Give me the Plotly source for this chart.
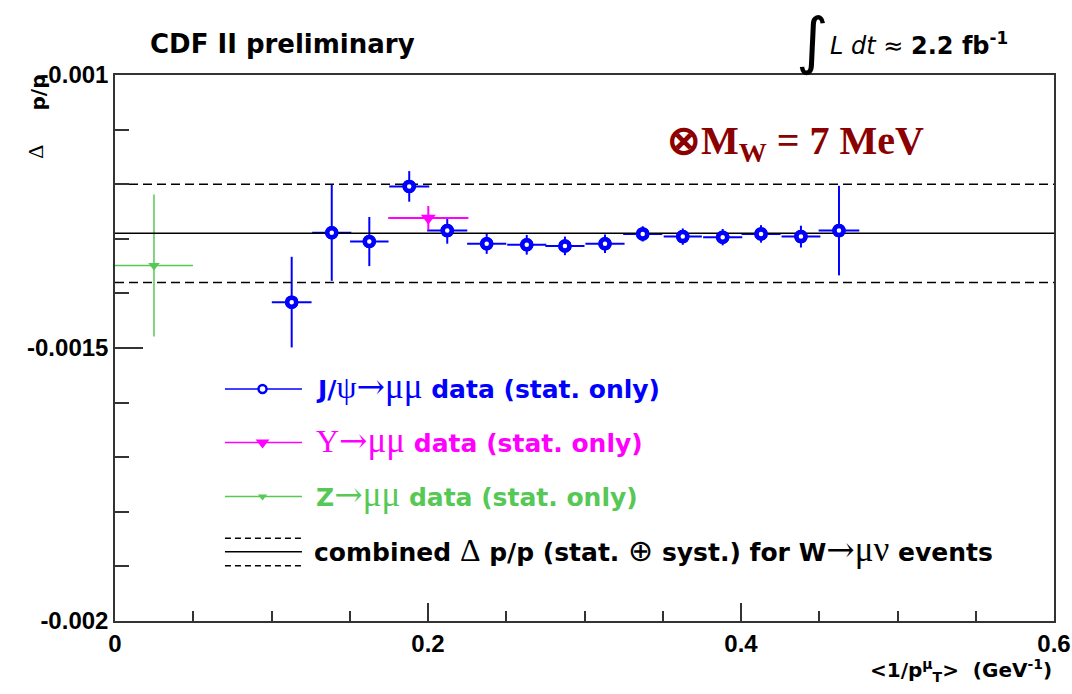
import plotly.graph_objects as go

# ---------------- data ----------------
jpsi_x = [0.1129, 0.1385, 0.1625, 0.1880, 0.2123, 0.2375, 0.2631, 0.2875,
          0.3131, 0.3372, 0.3628, 0.3883, 0.4128, 0.4383, 0.4626]
jpsi_y = [-0.001416, -0.001289, -0.001305, -0.001204, -0.001285, -0.001309,
          -0.001311, -0.001313, -0.001309, -0.001291, -0.001296, -0.001297,
          -0.001291, -0.001296, -0.001285]
jpsi_xerr = [0.0127, 0.0125, 0.0123, 0.0128, 0.0128, 0.0125, 0.0125, 0.0125,
             0.0125, 0.0125, 0.0122, 0.0125, 0.0125, 0.0124, 0.0130]
jpsi_yerr = [0.000083, 0.000088, 0.000045, 0.000028, 0.000024, 0.0000185,
             0.000018, 0.000017, 0.000017, 0.000014, 0.000015, 0.000015,
             0.000016, 0.000020, 0.000082]

ups_x = [0.2002]
ups_y = [-0.001262]
ups_xerr = [0.0256]
ups_yerr = [0.000022]

z_x = [0.0249]
z_y = [-0.001349]
z_xerr = [0.0249]
z_yerr = [0.00013]

comb_center = -0.00129
comb_err = 0.00009
x_span = [0.0, 0.6]

x_tickvals = [0.0, 0.2, 0.4, 0.6]
x_ticktext = ["0", "0.2", "0.4", "0.6"]
x_minor = [0.05, 0.1, 0.15, 0.25, 0.3, 0.35, 0.45, 0.5, 0.55]
y_tickvals = [-0.002, -0.0015, -0.001]
y_ticktext = ["-0.002", "-0.0015", "-0.001"]
y_minor = [-0.0019, -0.0018, -0.0017, -0.0016, -0.0014, -0.0013, -0.0012, -0.0011]

BLUE = "#0000ff"
MAG = "#ff00ff"
GREEN = "#55c855"
DARKRED = "#8b0000"
FRAME = "#333333"
SANS_B = dict(family="DejaVu Sans", weight="bold")
GR = "font-family:Liberation Serif;font-weight:normal;font-size:32px"
MU = "font-family:Liberation Serif;font-weight:normal;font-size:35px"
AR = "font-family:DejaVu Serif;font-weight:normal;font-size:34px"
SYM = "font-family:DejaVu Sans;font-weight:normal;font-size:30px"


def span(style, txt):
    return '<span style="%s">%s</span>' % (style, txt)


fig = go.Figure()

# J/psi data with error bars
fig.add_trace(go.Scatter(
    x=jpsi_x, y=jpsi_y, mode="markers",
    error_x=dict(type="data", array=jpsi_xerr, color=BLUE, thickness=2, width=0),
    error_y=dict(type="data", array=jpsi_yerr, color=BLUE, thickness=2, width=0),
    marker=dict(symbol="circle", size=9, color="white", line=dict(color=BLUE, width=4.5)),
    showlegend=False, hoverinfo="skip"))

# Z data
fig.add_trace(go.Scatter(
    x=z_x, y=z_y, mode="markers",
    error_x=dict(type="data", array=z_xerr, color=GREEN, thickness=1.5, width=0),
    error_y=dict(type="data", array=z_yerr, color=GREEN, thickness=1.5, width=0),
    marker=dict(symbol="triangle-down", size=10, color=GREEN),
    showlegend=False, hoverinfo="skip"))

# Upsilon data
fig.add_trace(go.Scatter(
    x=ups_x, y=ups_y, mode="markers",
    error_x=dict(type="data", array=ups_xerr, color=MAG, thickness=2, width=0),
    error_y=dict(type="data", array=ups_yerr, color=MAG, thickness=2, width=0),
    marker=dict(symbol="triangle-down", size=13, color=MAG),
    showlegend=False, hoverinfo="skip"))

# combined band lines
fig.add_trace(go.Scatter(x=x_span, y=[comb_center, comb_center], mode="lines",
                         line=dict(color="black", width=1.5),
                         showlegend=False, hoverinfo="skip"))
for yy in (comb_center + comb_err, comb_center - comb_err):
    fig.add_trace(go.Scatter(x=x_span, y=[yy, yy], mode="lines",
                             line=dict(color="black", width=1.5, dash="9px,5px"),
                             showlegend=False, hoverinfo="skip"))

# redraw J/psi markers on top of lines
fig.add_trace(go.Scatter(
    x=jpsi_x, y=jpsi_y, mode="markers",
    marker=dict(symbol="circle", size=9, color="white", line=dict(color=BLUE, width=4.5)),
    showlegend=False, hoverinfo="skip"))

# ---------------- hand-drawn legend (paper-like overlay axes) ----------------
lx0, lx1, lxm = 0.1171, 0.1991, 0.1571
ltext_x = 0.2119
leg = [
    (0.4248, BLUE, "circle", 8,
     "J/" + span(GR, "ψ") + span(AR, "→") + span(MU, "μμ") + " data (stat. only)"),
    (0.3269, MAG, "triangle-down", 12,
     span(GR, "Υ") + span(AR, "→") + span(MU, "μμ") + " data (stat. only)"),
    (0.2279, GREEN, "triangle-down", 8,
     "Z" + span(AR, "→") + span(MU, "μμ") + " data (stat. only)"),
]
for yy, col, sym, sz, txt in leg:
    fig.add_trace(go.Scatter(x=[lx0, lx1], y=[yy, yy], mode="lines",
                             line=dict(color=col, width=1.5),
                             xaxis="x2", yaxis="y2", showlegend=False, hoverinfo="skip"))
    if sym == "circle":
        mk = dict(symbol="circle", size=sz, color="white", line=dict(color=col, width=2.5))
    else:
        mk = dict(symbol=sym, size=sz, color=col)
    fig.add_trace(go.Scatter(x=[lxm], y=[yy], mode="markers", marker=mk,
                             xaxis="x2", yaxis="y2", showlegend=False, hoverinfo="skip"))
    fig.add_annotation(x=ltext_x, y=yy + 0.005, xref="paper", yref="paper", text=txt,
                       showarrow=False, xanchor="left", yanchor="middle",
                       font=dict(size=25, color=col, **SANS_B))

for yy, dash in ((0.1270, "solid"), (0.1516, "6px,4px"), (0.1014, "6px,4px")):
    fig.add_trace(go.Scatter(x=[lx0, lx1], y=[yy, yy], mode="lines",
                             line=dict(color="black", width=1.5, dash=dash),
                             xaxis="x2", yaxis="y2", showlegend=False, hoverinfo="skip"))
fig.add_annotation(x=ltext_x - 0.002, y=0.1270 + 0.005, xref="paper", yref="paper",
                   text=("combined " + span(GR, "Δ") + " p/p (stat. " + span(SYM, "⊕")
                         + " syst.) for W" + span(AR, "→") + span(MU, "μν") + " events"),
                   showarrow=False, xanchor="left", yanchor="middle",
                   font=dict(size=25, color="black", **SANS_B))

# ---------------- other text ----------------
fig.add_annotation(x=0.0351, y=1.0559, xref="paper", yref="paper",
                   text="CDF II preliminary", showarrow=False,
                   xanchor="left", yanchor="middle",
                   font=dict(size=26, color="black", **SANS_B))
fig.add_annotation(x=0.742, y=1.064, xref="paper", yref="paper",
                   text="∫", showarrow=False, xanchor="center", yanchor="middle",
                   font=dict(size=62, color="black", family="DejaVu Sans"))
fig.add_annotation(x=0.7593, y=1.0559, xref="paper", yref="paper",
                   text="<i>L dt</i> ≈ <b>2.2 fb<sup>-1</sup></b>", showarrow=False,
                   xanchor="left", yanchor="middle",
                   font=dict(size=24, color="black", family="DejaVu Sans"))
fig.add_annotation(x=0.586, y=0.8763, xref="paper", yref="paper",
                   text="⊗M<sub>W</sub> = 7 MeV", showarrow=False,
                   xanchor="left", yanchor="middle",
                   font=dict(size=40, color=DARKRED, family="Liberation Serif", weight="bold"))
# y title
fig.add_annotation(x=-0.082, y=0.968, xref="paper", yref="paper", text="p/p",
                   textangle=-90, showarrow=False, xanchor="center", yanchor="middle",
                   font=dict(size=20, color="black", **SANS_B))
fig.add_annotation(x=-0.085, y=0.8598, xref="paper", yref="paper", text="Δ",
                   textangle=-90, showarrow=False, xanchor="center", yanchor="middle",
                   font=dict(size=22, color="black", family="Liberation Serif"))
# x title
fig.add_annotation(x=1.0, y=-0.0898, xref="paper", yref="paper",
                   text="<1/p<sup>μ</sup><sub>T</sub>>  (GeV<sup>-1</sup>)",
                   showarrow=False, xanchor="right", yanchor="middle",
                   font=dict(size=20, color="black", **SANS_B))

tickfont = dict(family="Liberation Sans", size=24, color="black", weight="bold")
fig.update_layout(
    width=1072, height=694,
    margin=dict(l=115, r=18, t=75, b=73, autoexpand=False),
    paper_bgcolor="white", plot_bgcolor="white",
    showlegend=False,
    xaxis=dict(range=[0, 0.6], showline=True, linecolor=FRAME, linewidth=1.5, mirror=True,
               showgrid=False, zeroline=False, ticks="inside", ticklen=18, tickwidth=1.5,
               tickcolor=FRAME, tickmode="array", tickvals=x_tickvals, ticktext=x_ticktext,
               tickfont=tickfont, automargin=False,
               minor=dict(ticks="inside", ticklen=10, tickwidth=1.5, tickcolor=FRAME,
                          tickmode="array", tickvals=x_minor, showgrid=False)),
    yaxis=dict(range=[-0.002, -0.001], showline=True, linecolor=FRAME, linewidth=1.5, mirror=True,
               showgrid=False, zeroline=False, ticks="inside", ticklen=28, tickwidth=1.5,
               tickcolor=FRAME, tickmode="array", tickvals=y_tickvals, ticktext=y_ticktext,
               tickfont=tickfont, automargin=False,
               minor=dict(ticks="inside", ticklen=14, tickwidth=1.5, tickcolor=FRAME,
                          tickmode="array", tickvals=y_minor, showgrid=False)),
    xaxis2=dict(overlaying="x", range=[0, 1], visible=False, anchor="y2", automargin=False),
    yaxis2=dict(overlaying="y", range=[0, 1], visible=False, anchor="x2", automargin=False),
)

fig.write_html("out.html")
